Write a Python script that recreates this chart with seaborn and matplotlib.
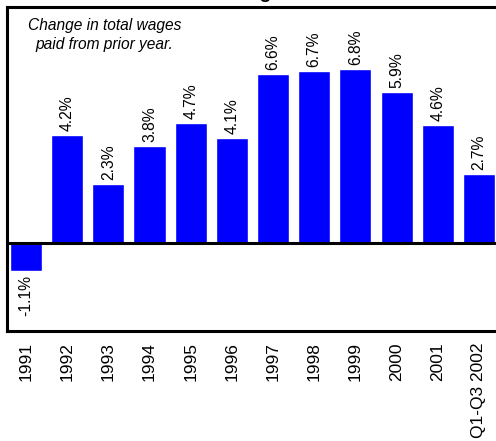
import matplotlib

matplotlib.use("Agg")
import matplotlib.pyplot as plt
import seaborn as sns

years = ["1991", "1992", "1993", "1994", "1995", "1996",
         "1997", "1998", "1999", "2000", "2001", "Q1-Q3 2002"]
wage_change = [-1.1, 4.2, 2.3, 3.8, 4.7, 4.1, 6.6, 6.7, 6.8, 5.9, 4.6, 2.7]
value_labels = [f"{v:.1f}%" for v in wage_change]


def main():
    sns.set_style("white")
    plt.rcParams["font.family"] = ["Liberation Sans", "DejaVu Sans"]
    plt.rcParams["text.color"] = "black"
    plt.rcParams["xtick.color"] = "black"
    plt.rcParams["xtick.labelcolor"] = "black"

    fig = plt.figure(figsize=(4.96, 4.41), dpi=100)
    # axes frame: left 7px, top 7px, bottom 331px, right runs past the edge
    ax = fig.add_axes([7 / 496, 1 - 331 / 441, 500 / 496 - 7 / 496, 324 / 441])

    sns.barplot(x=years, y=wage_change, color="#0000ff", saturation=1,
                width=0.78, ax=ax)
    ax.bar_label(ax.containers[0], labels=value_labels, rotation=90,
                 padding=3, fontsize=11.3, color="black")

    ax.axhline(0, color="black", lw=2.2, zorder=3)
    ax.set_xlim(-0.46, 11.51)
    ax.set_ylim(-3.44, 9.22)
    ax.set_yticks([])
    ax.set(xlabel=None, ylabel=None)
    ax.tick_params(axis="x", length=0, pad=8, labelsize=12.5, rotation=90,
                   labelcolor="black")

    for side in ["left", "top", "bottom", "right"]:
        ax.spines[side].set_color("black")
        ax.spines[side].set_linewidth(2.2)

    ax.text(0.198, 0.965, "Change in total wages\npaid from prior year.",
            transform=ax.transAxes, ha="center", va="top", style="italic",
            fontsize=11.2, linespacing=1.3, color="black")

    # title sits above the canvas, only the tail of its "g" shows
    fig.text(0.53, 1 + 2.5 / 441, "Wages", ha="center", va="baseline",
             fontsize=14, fontweight="bold", color="black")

    fig.savefig("out.png", dpi=100, facecolor="white")


if __name__ == "__main__":
    main()
